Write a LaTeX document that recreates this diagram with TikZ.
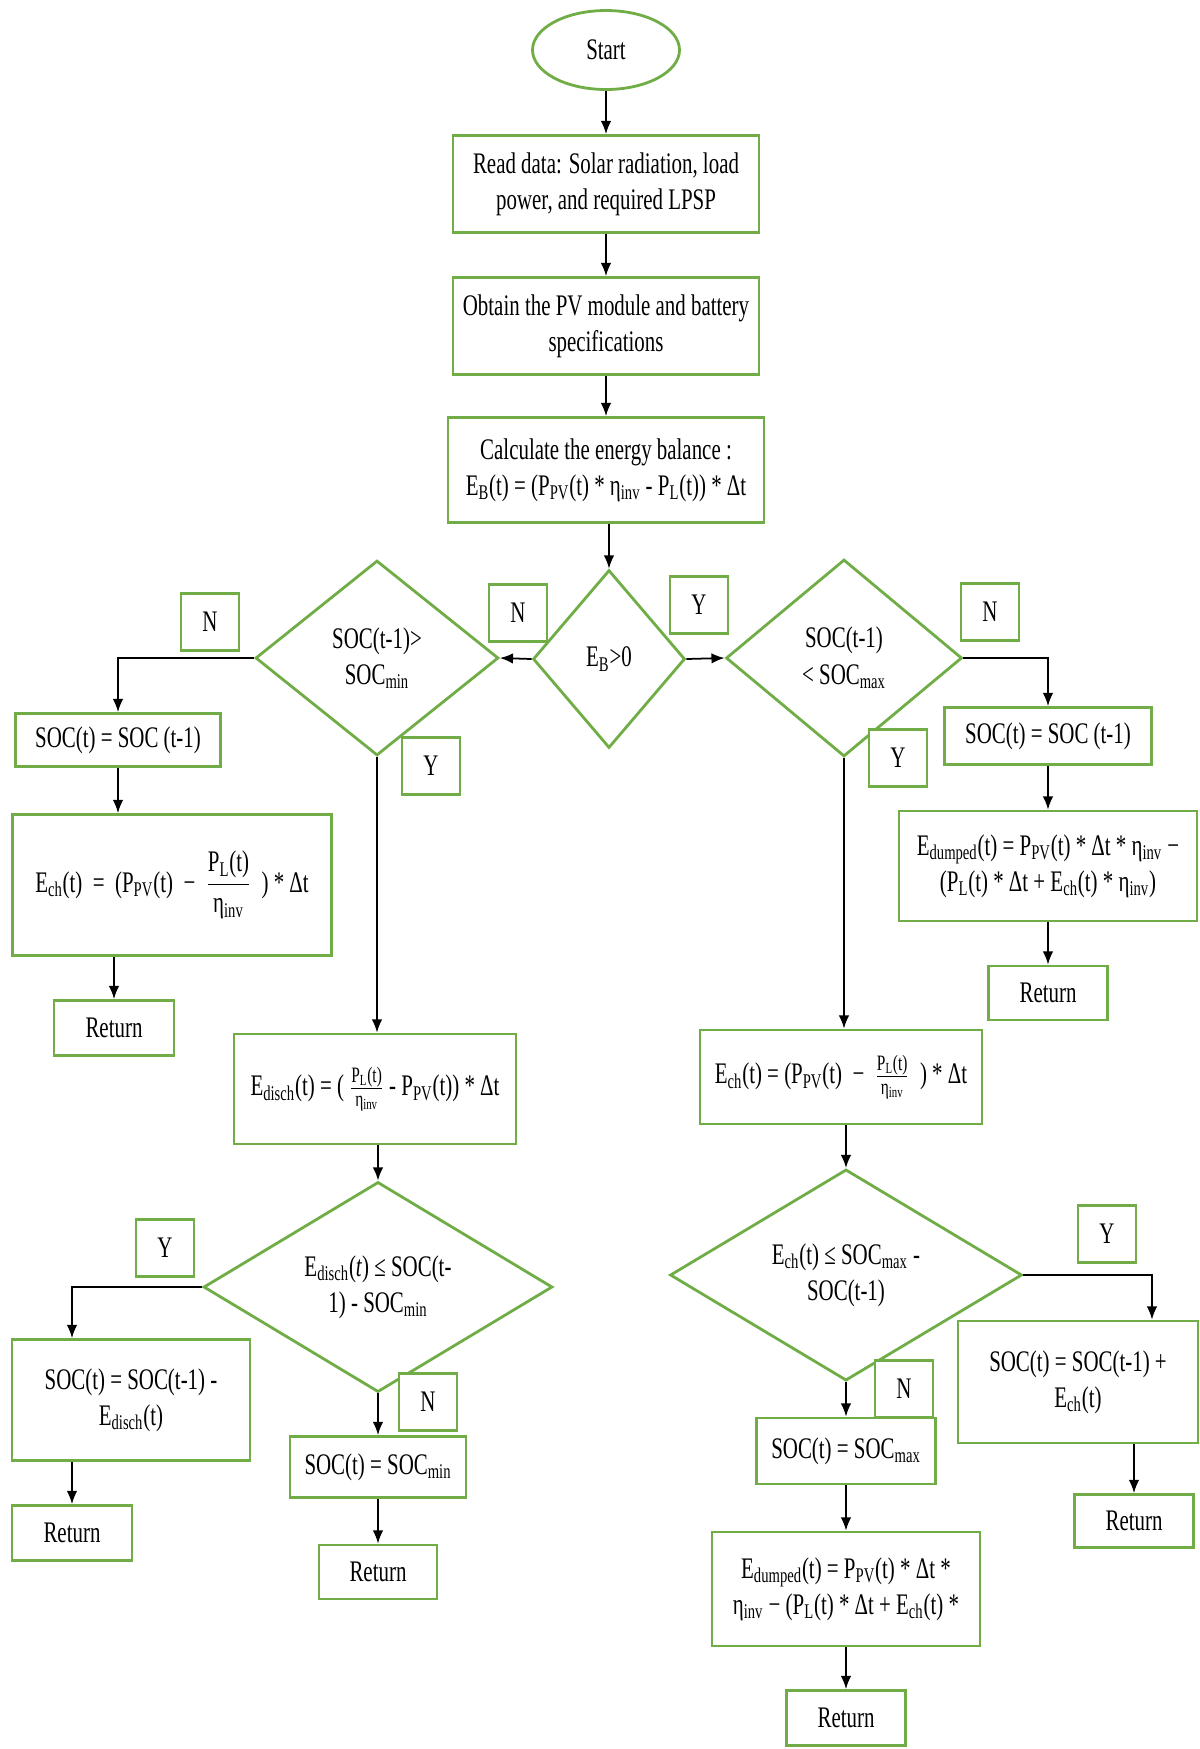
\documentclass[tikz,border=0pt]{standalone}
\usepackage{fontspec}
\setmainfont{Liberation Serif}[FakeStretch=0.7]
\usetikzlibrary{shapes.geometric,arrows.meta}
\definecolor{boxgreen}{RGB}{112,173,71}
\newcommand{\smallfr}[2]{$\frac{\mbox{\fontsize{12.5}{13}\selectfont #1}}{\mbox{\fontsize{12.5}{13}\selectfont #2}}$}
\newcommand{\bigfr}[2]{$\displaystyle\frac{\mbox{#1}}{\mbox{#2}}$}
\begin{document}
\begin{tikzpicture}[x=0.02cm, y=-0.02cm, font=\fontsize{17}{20.5}\selectfont,
  blk/.style={draw=boxgreen, line width=1.6pt, align=center, inner sep=2pt},
  dec/.style={diamond, draw=boxgreen, line width=1.6pt, align=center, inner sep=0pt},
  yn/.style={draw=boxgreen, fill=white, line width=1.6pt, minimum width=1.16cm, minimum height=1.14cm, inner sep=0pt},
  arr/.style={-{Latex[length=7.5pt,width=6pt]}, line width=1pt}]
\useasboundingbox (0,0) rectangle (1200,1749);

% main column
\node[ellipse, draw=boxgreen, line width=1.6pt, minimum width=2.94cm, minimum height=1.58cm] (start) at (606,50) {Start};
\node[blk, minimum width=6.12cm, minimum height=1.94cm] (read) at (606,184) {Read data: Solar radiation, load\\power, and required LPSP};
\node[blk, minimum width=6.12cm, minimum height=1.94cm] (obtain) at (606,326) {Obtain the PV module and battery\\specifications};
\node[blk, minimum width=6.32cm, minimum height=2.1cm] (calc) at (606,470) {Calculate the energy balance :\\E\textsubscript{B}(t) = (P\textsubscript{PV}(t) * η\textsubscript{inv} - P\textsubscript{L}(t)) * Δt};
\node[dec, minimum width=3.04cm, minimum height=3.56cm] (eb) at (609,659) {E\textsubscript{B}>0};

% discharge side
\node[dec, minimum width=4.86cm, minimum height=3.9cm] (lsoc) at (377,658) {SOC(t-1)>\\SOC\textsubscript{min}};
\node[blk, minimum width=4.1cm, minimum height=1.06cm] (keep1) at (118,740) {SOC(t) = SOC (t-1)};
\node[blk, minimum width=6.38cm, minimum height=2.82cm] (ech1) at (172,885) {E\textsubscript{ch}(t) \ = \ (P\textsubscript{PV}(t) \ − \ \bigfr{P\textsubscript{L}(t)}{η\textsubscript{inv}} \ ) * Δt};
\node[blk, minimum width=2.4cm, minimum height=1.1cm] (ret1) at (114,1028) {Return};
\node[blk, minimum width=5.64cm, minimum height=2.2cm] (disch) at (375,1089) {E\textsubscript{disch}(t) = ( \smallfr{P\textsubscript{L}(t)}{η\textsubscript{inv}} - P\textsubscript{PV}(t)) * Δt};
\node[dec, minimum width=6.98cm, minimum height=3.92cm] (ldec) at (378,1287) {E\textsubscript{disch}(\textit{t}) ≤ SOC(t-\\1) - SOC\textsubscript{min}};
\node[blk, minimum width=4.76cm, minimum height=2.42cm] (lsub) at (131,1400) {SOC(t) = SOC(t-1) -\\E\textsubscript{disch}(t)};
\node[blk, minimum width=2.4cm, minimum height=1.1cm] (ret2) at (72,1533) {Return};
\node[blk, minimum width=3.52cm, minimum height=1.22cm] (smin) at (378,1467) {SOC(t) = SOC\textsubscript{min}};
\node[blk, minimum width=2.36cm, minimum height=1.08cm] (ret3) at (378,1572) {Return};

% charge side
\node[dec, minimum width=4.72cm, minimum height=3.94cm] (rsoc) at (844,658) {SOC(t-1)\\< SOC\textsubscript{max}};
\node[blk, minimum width=4.14cm, minimum height=1.14cm] (keep2) at (1048,736) {SOC(t) = SOC (t-1)};
\node[blk, minimum width=5.96cm, minimum height=2.2cm] (dump1) at (1048,866) {E\textsubscript{dumped}(t) = P\textsubscript{PV}(t) * Δt * η\textsubscript{inv} −\\(P\textsubscript{L}(t) * Δt + E\textsubscript{ch}(t) * η\textsubscript{inv})};
\node[blk, minimum width=2.38cm, minimum height=1.08cm] (ret4) at (1048,993) {Return};
\node[blk, minimum width=5.64cm, minimum height=1.88cm] (ech2) at (841,1077) {E\textsubscript{ch}(t) = (P\textsubscript{PV}(t) \ − \ \smallfr{P\textsubscript{L}(t)}{η\textsubscript{inv}} \ ) * Δt};
\node[dec, minimum width=7.04cm, minimum height=3.94cm] (rdec) at (846,1275) {E\textsubscript{ch}(t) ≤ SOC\textsubscript{max} -\\SOC(t-1)};
\node[blk, minimum width=4.8cm, minimum height=2.44cm] (radd) at (1078,1382) {SOC(t) = SOC(t-1) +\\E\textsubscript{ch}(t)};
\node[blk, minimum width=2.38cm, minimum height=1.06cm] (ret5) at (1134,1521) {Return};
\node[blk, minimum width=3.58cm, minimum height=1.32cm] (smax) at (846,1451) {SOC(t) = SOC\textsubscript{max}};
\node[blk, minimum width=5.36cm, minimum height=2.28cm] (dump2) at (846,1589) {E\textsubscript{dumped}(t) = P\textsubscript{PV}(t) * Δt *\\η\textsubscript{inv} − (P\textsubscript{L}(t) * Δt + E\textsubscript{ch}(t) *};
\node[blk, minimum width=2.38cm, minimum height=1.1cm] (ret6) at (846,1718) {Return};

% yes / no tags
\node[yn] (n1) at (210,622) {N};
\node[yn] (n2) at (518,613) {N};
\node[yn] (y1) at (699,605) {Y};
\node[yn] (n3) at (990,612) {N};
\node[yn] (y2) at (431,766) {Y};
\node[yn] (y3) at (898,758) {Y};
\node[yn] (y4) at (165,1248) {Y};
\node[yn] (n4) at (428,1402) {N};
\node[yn] (y5) at (1107,1234) {Y};
\node[yn] (n5) at (904,1389) {N};

% connectors
\draw[arr] (start) -- (read);
\draw[arr] (read) -- (obtain);
\draw[arr] (obtain) -- (calc);
\draw[arr] (calc.south -| eb) -- (eb.north);
\draw[arr] (eb.west) -- (lsoc.east);
\draw[arr] (eb.east) -- (rsoc.west);

\draw[arr] (lsoc.west) -| (keep1.north);
\draw[arr] (keep1.south) -- (keep1.south |- ech1.north);
\draw[arr] (ech1.south -| ret1) -- (ret1.north);
\draw[arr] (lsoc.south) -- (lsoc.south |- disch.north);
\draw[arr] (disch.south -| ldec) -- (ldec.north);
\draw[arr] (ldec.west) -| (lsub.north -| ret2);
\draw[arr] (lsub.south -| ret2) -- (ret2.north);
\draw[arr] (ldec.south) -- (smin.north);
\draw[arr] (smin) -- (ret3);

\draw[arr] (rsoc.east) -| (keep2.north);
\draw[arr] (keep2) -- (dump1);
\draw[arr] (dump1) -- (ret4);
\draw[arr] (rsoc.south) -- (rsoc.south |- ech2.north);
\draw[arr] (ech2.south -| rdec) -- (rdec.north);
\draw[arr] (rdec.east) -| ([xshift=1.48cm]radd.north);
\draw[arr] (radd.south -| ret5) -- (ret5.north);
\draw[arr] (rdec.south) -- (smax.north);
\draw[arr] (smax) -- (dump2);
\draw[arr] (dump2) -- (ret6);

\end{tikzpicture}
\end{document}
